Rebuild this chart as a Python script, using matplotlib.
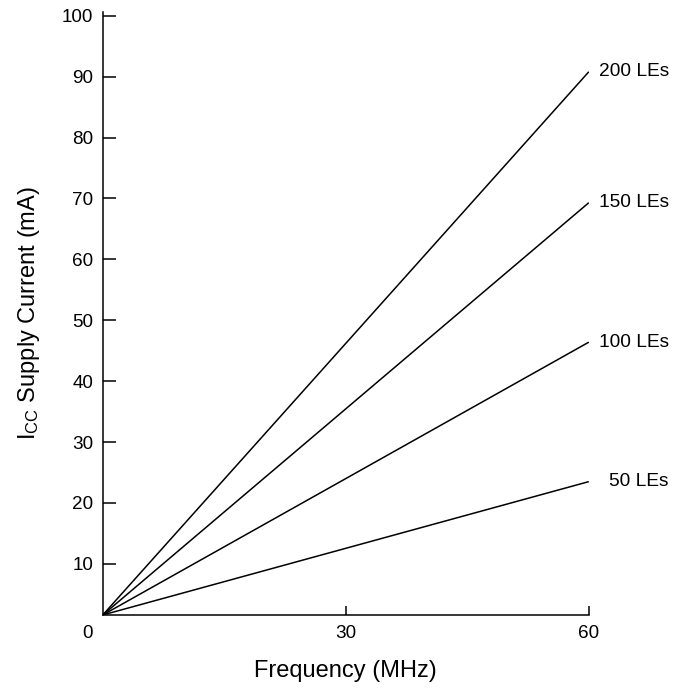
import matplotlib
matplotlib.use("Agg")
import matplotlib.pyplot as plt

plt.rcParams['font.family'] = ['Liberation Sans', 'DejaVu Sans']
plt.rcParams['mathtext.fontset'] = 'custom'
plt.rcParams['mathtext.rm'] = 'Liberation Sans'
plt.rcParams['mathtext.it'] = 'Liberation Sans'

# data
freq = [0, 60]
les_50 = [1.6, 23.5]
les_100 = [1.6, 46.4]
les_150 = [1.6, 69.3]
les_200 = [1.6, 90.8]
series = [les_50, les_100, les_150, les_200]
series_labels = ['50 LEs', '100 LEs', '150 LEs', '200 LEs']
label_offsets = [14.4, 7.2, 7.2, 7.2]

x_ticks = [30, 60]
y_ticks = [10, 20, 30, 40, 50, 60, 70, 80, 90, 100]

fig = plt.figure(figsize=(6.76, 6.91), dpi=100)
ax = fig.add_axes([0.152, 0.110, 0.719, 0.873])

for vals, lab, off in zip(series, series_labels, label_offsets):
    ax.plot(freq, vals, color='black', lw=1.1, solid_capstyle='butt')
    ax.annotate(lab, xy=(freq[-1], vals[-1]), xytext=(off, 0),
                textcoords='offset points', ha='left', va='center',
                fontsize=13.8)

ax.set_xlim(0, 60)
ax.set_ylim(1.6, 100.66)
ax.set_xticks(x_ticks)
ax.set_yticks(y_ticks)
ax.tick_params(axis='y', direction='in', length=9.4, width=1.1, pad=7,
               labelsize=13.6)
ax.tick_params(axis='x', direction='in', length=6.2, width=1.1, pad=7,
               labelsize=13.6)

for s in ['top', 'right']:
    ax.spines[s].set_visible(False)
for s in ['left', 'bottom']:
    ax.spines[s].set_linewidth(1.1)

ax.annotate('0', xy=(0, 1.6), xytext=(-7, -7), textcoords='offset points',
            ha='right', va='top', fontsize=13.6)

ax.set_xlabel('Frequency (MHz)', fontsize=17, labelpad=13)
ax.set_ylabel(r'I$_{\rm CC}$ Supply Current (mA)', fontsize=17, labelpad=14)

fig.savefig('out.png', dpi=100)
